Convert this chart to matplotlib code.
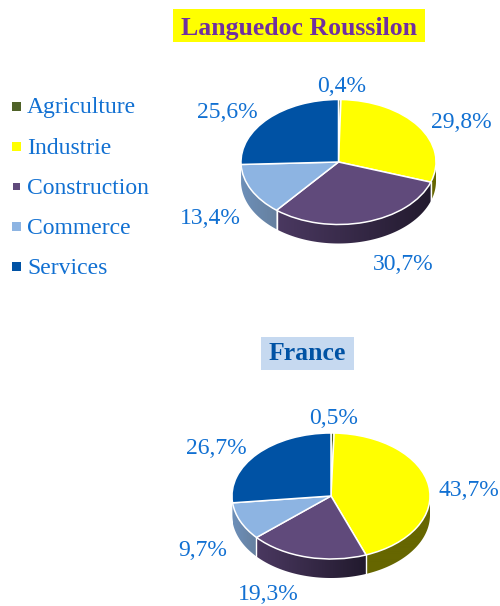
import numpy as np
import matplotlib
matplotlib.use('Agg')
import matplotlib.pyplot as plt
from matplotlib.patches import Polygon, Rectangle

W, H = 500, 606

categories = ['Agriculture', 'Industrie', 'Construction', 'Commerce', 'Services']
values_lr = [0.4, 29.8, 30.7, 13.4, 25.6]
values_fr = [0.5, 43.7, 19.3, 9.7, 26.7]
labels_lr = ['0,4%', '29,8%', '30,7%', '13,4%', '25,6%']
labels_fr = ['0,5%', '43,7%', '19,3%', '9,7%', '26,7%']

colors = ['#4f6228', '#ffff00', '#604a7b', '#8db4e2', '#0052a4']
# side wall gradient, left colour and right colour
side_colors = [('#3a4a1c', '#3a4a1c'), ('#666600', '#666600'), ('#4a3860', '#221a2e'),
               ('#6d8fb8', '#66809f'), ('#6d8fb8', '#6d8fb8')]

text_blue = '#1170d2'
serif = 'Liberation Serif'

fig = plt.figure(figsize=(W / 100, H / 100), dpi=100)
bg = fig.add_axes([0, 0, 1, 1])
bg.set_xlim(0, W)
bg.set_ylim(H, 0)
bg.axis('off')


def draw_pie(values, cx, cy, rx, ry, depth):
    pad = 3
    ax = fig.add_axes([(cx - rx - pad) / W, 1 - (cy + ry + depth + pad) / H,
                       (2 * rx + 2 * pad) / W, (2 * ry + depth + 2 * pad) / H])
    d = depth / ry
    # top face, angles come from the pie itself
    wedges, _ = ax.pie(values, colors=colors, startangle=90, counterclock=False,
                       wedgeprops={'edgecolor': 'white', 'linewidth': 1.1, 'zorder': 5})
    ax.set_aspect('auto')
    ax.axis('off')

    for w, sc in zip(wedges, side_colors):
        t1, t2 = w.theta1 % 360, w.theta2 % 360
        if t2 <= t1:
            t2 += 360
        # only the front half of the rim can be seen
        for lo, hi in [(t1, t2), (t1 - 360, t2 - 360)]:
            a, b = max(lo, 180), min(hi, 360)
            if b <= a:
                continue
            th = np.radians(np.linspace(a, b, 80))
            xs = np.cos(th)
            ys = np.sin(th)
            pts = np.r_[np.c_[xs, ys], np.c_[xs[::-1], ys[::-1] - d]]
            poly = Polygon(pts, closed=True, facecolor='none', edgecolor='none', zorder=2)
            ax.add_patch(poly)
            cmap = matplotlib.colors.LinearSegmentedColormap.from_list('s', sc)
            im = ax.imshow(np.linspace(0, 1, 64).reshape(1, -1), cmap=cmap, aspect='auto',
                           extent=(xs.min(), xs.max(), -1 - d, 0), zorder=2)
            im.set_clip_path(poly)
            # white seam between two walls, not near the outline of the pie
            if a > 200:
                ax.plot([xs[0], xs[0]], [ys[0], ys[0] - d], color='white', lw=1.0, zorder=3)
    ax.set_xlim(-1 - pad / rx, 1 + pad / rx)
    ax.set_ylim(-1 - d - pad / ry, 1 + pad / ry)
    ax.set_aspect('auto')
    return ax


draw_pie(values_lr, 338.5, 162, 97.5, 62.5, 19)
draw_pie(values_fr, 331, 496, 99, 63, 19)

# titles
bg.add_patch(Rectangle((173, 9), 252, 33, facecolor='#ffff00', edgecolor='none'))
bg.text(299, 28, 'Languedoc Roussilon', color='#7030a0', fontsize=18.5, fontweight='bold',
        family=serif, ha='center', va='center')
bg.add_patch(Rectangle((261, 337), 93, 33, facecolor='#c6d9f0', edgecolor='none'))
bg.text(307, 354, 'France', color='#0052a4', fontsize=18.5, fontweight='bold',
        family=serif, ha='center', va='center')

# legend
legend_y = [106, 146, 186, 226, 266]
legend_size = [9, 9, 7, 9, 9]
for name, col, y, s in zip(categories, colors, legend_y, legend_size):
    bg.add_patch(Rectangle((16.5 - s / 2, y - s / 2), s, s, facecolor=col, edgecolor='none'))
    bg.text(27, y + 2, name, color=text_blue, fontsize=17, family=serif, ha='left', va='center')

# percent labels
pos_lr = [(342, 86), (461, 123), (403, 264), (210, 219), (227, 112)]
pos_fr = [(334, 419), (469, 490), (268, 595), (203, 551), (216, 448)]
for txt, (x, y) in list(zip(labels_lr, pos_lr)) + list(zip(labels_fr, pos_fr)):
    bg.text(x, y, txt, color=text_blue, fontsize=17, family=serif, ha='center', va='center')

fig.savefig('out.png', dpi=100, facecolor='white')
